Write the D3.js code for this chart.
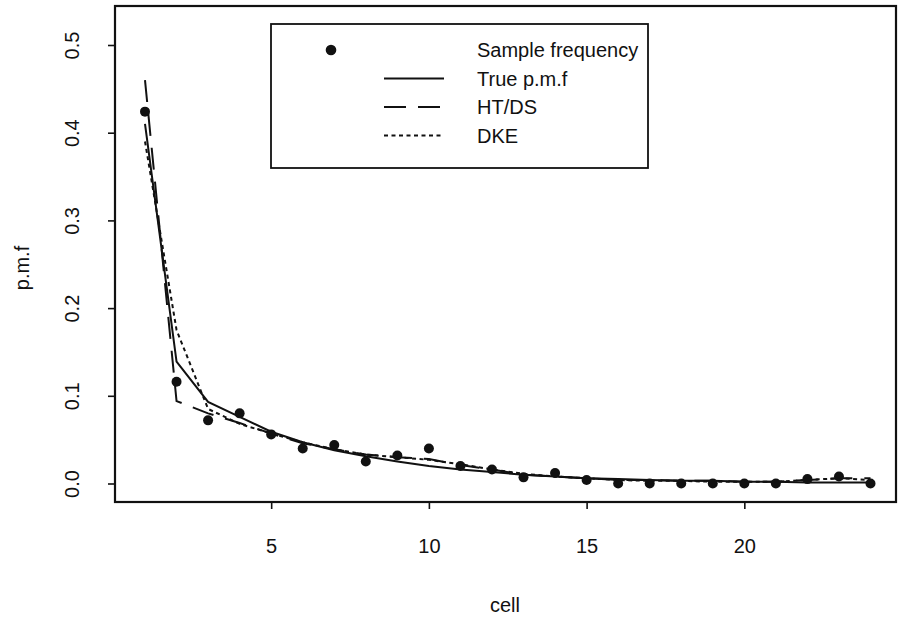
<!DOCTYPE html>
<html>
<head>
<meta charset="utf-8">
<script src="https://cdn.jsdelivr.net/npm/d3@7.9.0/dist/d3.min.js"></script>
<style>
  html, body { margin: 0; padding: 0; background: #fff; }
  svg { display: block; font-family: "Liberation Sans", Arial, Helvetica, sans-serif; }
</style>
</head>
<body>
<svg id="chart" width="898" height="619"></svg>
<script>
/*
 * -----------------------------------------------------
 * 0. Data
 * -----------------------------------------------------
 */
const cells = [1, 2, 3, 4, 5, 6, 7, 8, 9, 10, 11, 12,
               13, 14, 15, 16, 17, 18, 19, 20, 21, 22, 23, 24];

const sampleFreq = [0.424, 0.116, 0.072, 0.080, 0.056, 0.040, 0.044, 0.025,
                    0.032, 0.040, 0.020, 0.016, 0.007, 0.012, 0.004, 0.000,
                    0.000, 0.000, 0.000, 0.000, 0.000, 0.005, 0.008, 0.000];

const truePmf = [0.410, 0.139, 0.093, 0.076, 0.059, 0.047, 0.038, 0.031,
                 0.025, 0.020, 0.016, 0.013, 0.010, 0.008, 0.006, 0.005,
                 0.004, 0.003, 0.003, 0.002, 0.002, 0.001, 0.001, 0.001];

const htds = [0.460, 0.094, 0.080, 0.069, 0.057, 0.046, 0.039, 0.033,
              0.030, 0.028, 0.021, 0.016, 0.010, 0.008, 0.006, 0.004,
              0.004, 0.003, 0.003, 0.002, 0.002, 0.004, 0.006, 0.006];

const dke = [0.390, 0.175, 0.085, 0.068, 0.057, 0.047, 0.039, 0.033,
             0.030, 0.027, 0.022, 0.016, 0.011, 0.008, 0.006, 0.004,
             0.003, 0.003, 0.002, 0.002, 0.002, 0.004, 0.006, 0.004];

const xTicks = [5, 10, 15, 20];
const yTicks = [0, 0.1, 0.2, 0.3, 0.4, 0.5];

const legendLabels = ['Sample frequency', 'True p.m.f', 'HT/DS', 'DKE'];

/*
 * -----------------------------------------------------
 * 1. Frame + scales
 * -----------------------------------------------------
 */
const svg = d3.select('#chart');
const box = { left: 115, top: 6, right: 896, bottom: 502 };
const fontPx = '20px';

const x = d3.scaleLinear().domain([1, 24]).range([145, 870.5]);
const y = d3.scaleLinear().domain([0, 0.5]).range([483.5, 45]);

const ink = '#111';

// plot box
svg.append('rect')
  .attr('x', box.left).attr('y', box.top)
  .attr('width', box.right - box.left)
  .attr('height', box.bottom - box.top)
  .attr('fill', 'none').attr('stroke', ink).attr('stroke-width', 2.2);

/*
 * -----------------------------------------------------
 * 2. Axes (R style: outward ticks, y labels along the axis)
 * -----------------------------------------------------
 */
const xAxis = svg.append('g')
  .attr('transform', `translate(0,${box.bottom})`)
  .call(d3.axisBottom(x).tickValues(xTicks).tickSize(7)
    .tickFormat(d3.format('d')));

const yAxis = svg.append('g')
  .attr('transform', `translate(${box.left},0)`)
  .call(d3.axisLeft(y).tickValues(yTicks).tickSize(7)
    .tickFormat(d3.format('.1f')));

[xAxis, yAxis].forEach(g => {
  g.select('.domain').remove();
  g.selectAll('line').attr('stroke', ink).attr('stroke-width', 1.6);
  g.selectAll('text').attr('fill', ink).style('font-size', fontPx)
    .style('font-family', '"Liberation Sans", Arial, sans-serif');
});

xAxis.selectAll('text').attr('y', 44).attr('dy', '0.35em');

// tick groups are already shifted to y(d); only move left and turn
yAxis.selectAll('text')
  .attr('x', 0).attr('y', 0).attr('dy', '0.35em')
  .attr('text-anchor', 'middle')
  .attr('transform', `translate(${72 - box.left},0) rotate(-90)`);

svg.append('text')
  .attr('x', 505)
  .attr('y', 605)
  .attr('dy', '0.35em')
  .attr('text-anchor', 'middle')
  .attr('fill', ink)
  .style('font-size', fontPx)
  .text('cell');

svg.append('text')
  .attr('transform', 'translate(22,268) rotate(-90)')
  .attr('dy', '0.35em')
  .attr('text-anchor', 'middle')
  .attr('fill', ink)
  .style('font-size', fontPx)
  .text('p.m.f');

/*
 * -----------------------------------------------------
 * 3. Lines + points
 * -----------------------------------------------------
 */
const line = d3.line()
  .x((_d, i) => x(cells[i]))
  .y(d => y(d));

const styles = [
  { values: truePmf, dash: null },
  { values: htds, dash: '22,12' },
  { values: dke, dash: '4,3.5' },
];

styles.forEach(s => {
  svg.append('path')
    .datum(s.values)
    .attr('d', line)
    .attr('fill', 'none')
    .attr('stroke', ink)
    .attr('stroke-width', 2)
    .attr('stroke-dasharray', s.dash);
});

svg.append('g')
  .selectAll('circle')
  .data(sampleFreq)
  .join('circle')
  .attr('cx', (_d, i) => x(cells[i]))
  .attr('cy', d => y(d))
  .attr('r', 5)
  .attr('fill', ink);

/*
 * -----------------------------------------------------
 * 4. Legend
 * -----------------------------------------------------
 */
const legend = svg.append('g');
legend.append('rect')
  .attr('x', 271).attr('y', 24)
  .attr('width', 377).attr('height', 144)
  .attr('fill', '#fff').attr('stroke', ink).attr('stroke-width', 1.8);

const rowY = i => 50 + i * 28.5;

legend.append('circle')
  .attr('cx', 331).attr('cy', rowY(0)).attr('r', 5.3).attr('fill', ink);

styles.forEach((s, i) => {
  legend.append('line')
    .attr('x1', 384).attr('x2', 444)
    .attr('y1', rowY(i + 1)).attr('y2', rowY(i + 1))
    .attr('stroke', ink).attr('stroke-width', 2)
    .attr('stroke-dasharray', s.dash);
});

legend.selectAll('text.lab')
  .data(legendLabels)
  .join('text')
  .attr('class', 'lab')
  .attr('x', 477)
  .attr('y', (_d, i) => rowY(i))
  .attr('dy', '0.35em')
  .attr('fill', ink)
  .style('font-size', fontPx)
  .text(d => d);
</script>
</body>
</html>
